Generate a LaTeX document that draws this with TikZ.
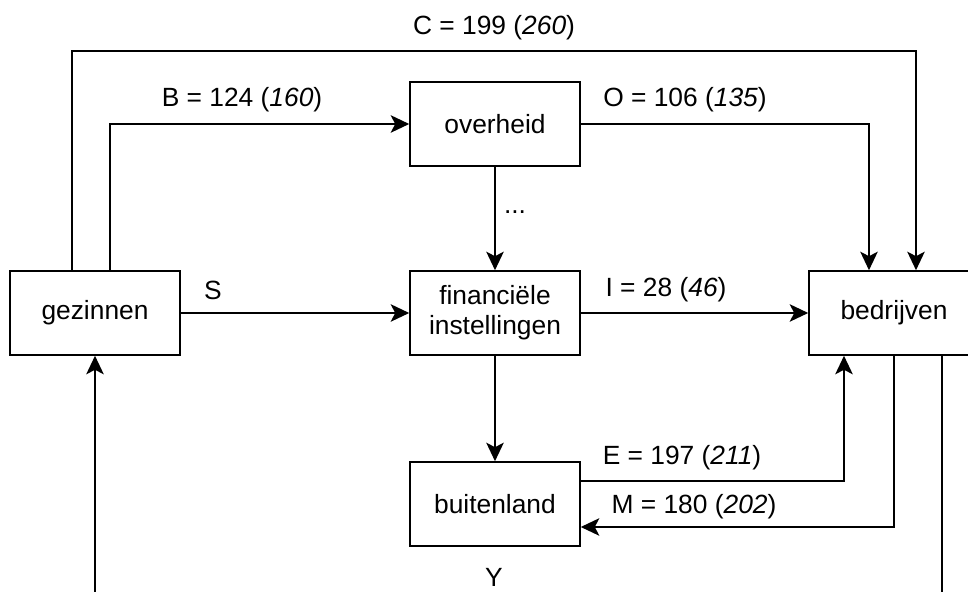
\documentclass[tikz,border=0pt]{standalone}
\usepackage{fontspec}
\setmainfont{Liberation Sans}
\usepackage{tikz}
\usetikzlibrary{arrows.meta, positioning}

\begin{document}
\begin{tikzpicture}[
    every node/.style={font=\fontsize{15}{17}\selectfont},
    sector/.style={draw, line width=0.9pt, minimum width=3.4cm, minimum height=1.68cm, align=center, inner sep=0pt},
    flow/.style={-{Stealth[length=0.37cm, width=0.35cm, inset=0.09cm]}, line width=1pt},
    plain/.style={line width=1pt}
]
\useasboundingbox (0,0) rectangle (19.36,11.84);

% sectoren
\node[sector] (gez) at (1.9,5.58) {gezinnen};
\node[sector] (ove) at (9.9,9.36) {overheid};
\node[sector] (fin) at (9.9,5.58) {financiële\\instellingen};
\node[sector] (bed) at (17.88,5.58) {bedrijven};
\node[sector] (bui) at (9.9,1.76) {buitenland};

% aansluitpunten
\coordinate (ctop) at (0,10.82);
\coordinate (ybot) at (0,0);
\coordinate (cout) at ([xshift=-0.46cm]gez.north);
\coordinate (bout) at ([xshift=0.3cm]gez.north);
\coordinate (cin) at ([xshift=0.44cm]bed.north);
\coordinate (oin) at ([xshift=-0.5cm]bed.north);
\coordinate (ein) at ([xshift=-1cm]bed.south);
\coordinate (yout) at ([xshift=0.96cm]bed.south);
\coordinate (eout) at ([yshift=0.46cm]bui.east);
\coordinate (min) at ([yshift=-0.46cm]bui.east);

% stromen
\draw[flow] (cout) |- (cin |- ctop) -- (cin);
\draw[flow] (bout) |- (ove.west);
\draw[flow] (ove.east) -| (oin);
\draw[flow] (ove) -- (fin);
\draw[flow] (gez) -- (fin);
\draw[flow] (fin) -- (bed);
\draw[flow] (fin) -- (bui);
\draw[flow] (eout) -| (ein);
\draw[flow] (bed.south) |- (min);
\draw[plain] (yout) -- (yout |- ybot);
\draw[flow] (gez.south |- ybot) -- (gez);

% labels
\node (lc) at (9.88,11.28) {C = 199 (\textit{260})};
\node (lb) at (4.84,9.84) {B = 124 (\textit{160})};
\node (lo) at (13.7,9.84) {O = 106 (\textit{135})};
\node (ld) at (10.3,7.6) {...};
\node (ls) at (4.26,6.04) {S};
\node (li) at (13.32,6.04) {I = 28 (\textit{46})};
\node (le) at (13.64,2.68) {E = 197 (\textit{211})};
\node (lm) at (13.88,1.7) {M = 180 (\textit{202})};
\node (ly) at (9.88,0.3) {Y};
\end{tikzpicture}
\end{document}
